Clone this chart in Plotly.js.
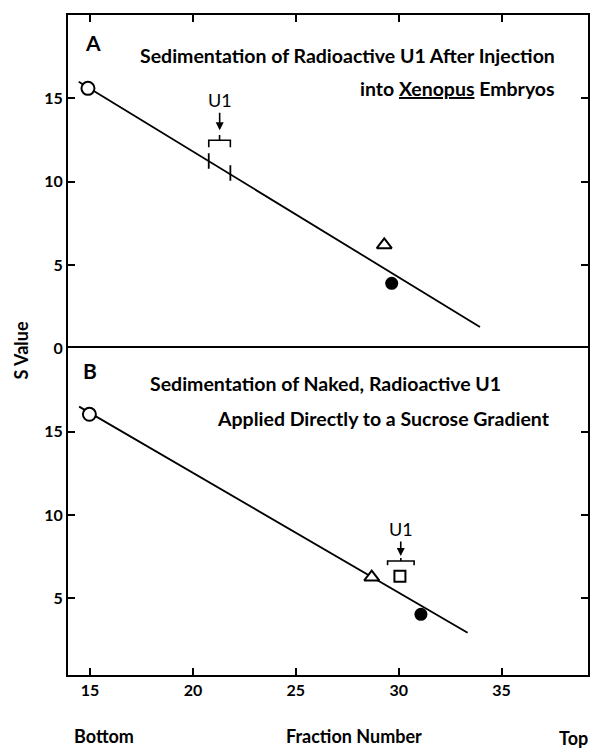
<!DOCTYPE html>
<html>
<head>
<meta charset="utf-8">
<script src="https://cdn.plot.ly/plotly-3.0.1.min.js"></script>
<style>html,body{margin:0;padding:0;background:#fff;}#chart{width:593px;height:748px;}</style>
</head>
<body>
<div id="chart"></div>
<script>
// ---------- data ----------
// Panel A: Sedimentation of radioactive U1 after injection into Xenopus embryos
const aLineX = [14.45, 33.95];
const aLineY = [16.0, 1.28];
const aOpenCircleX = [14.9];
const aOpenCircleY = [15.6];
const aTriangleX = [29.3];
const aTriangleY = [6.2];
const aFilledX = [29.66];
const aFilledY = [3.9];
const aU1X = [20.77, 21.82];        // U1 peak boundaries on the line
const aU1Y = [11.24, 10.52];
const aBracketY = [12.06, 12.48, 12.8]; // end, top, notch
const aArrowTip = [21.3, 13.08];

// Panel B: naked radioactive U1 applied directly to a sucrose gradient
const bLineX = [14.47, 33.35];
const bLineY = [16.5, 2.94];
const bOpenCircleX = [14.97];
const bOpenCircleY = [16.04];
const bTriangleX = [28.69];
const bTriangleY = [6.27];
const bSquareX = [30.06];
const bSquareY = [6.33];
const bFilledX = [31.08];
const bFilledY = [4.04];
const bBracketX = [29.46, 30.75];
const bBracketY = [6.98, 7.24, 7.42];
const bArrowTip = [30.1, 7.54];

const xTicks = [15, 20, 25, 30, 35];
const yTicksA = [0, 5, 10, 15];
const yTicksB = [5, 10, 15];
const xRange = [13.93, 39.2];
const yRangeA = [0, 20];
const yRangeB = [0.4, 20];

const titleA1 = "Sedimentation of Radioactive U1 After Injection";
const titleA2 = "into <u>Xenopus</u> Embryos";
const titleB1 = "Sedimentation of Naked, Radioactive U1";
const titleB2 = "Applied Directly to a Sucrose Gradient";

// ---------- styles ----------
const FONT = "Lato, 'Liberation Sans', sans-serif";
const black = "#000";
const lineStyle = {color: black, width: 1.8};
const openMarker = (sym, size) => ({symbol: sym, size: size, color: "#fff", line: {color: black, width: 2}});

const traces = [
  // Panel A
  {x: aLineX, y: aLineY, xaxis: "x2", yaxis: "y2", mode: "lines", line: lineStyle, hoverinfo: "skip"},
  {x: aU1X, y: aU1Y, xaxis: "x2", yaxis: "y2", mode: "markers",
   marker: {symbol: "line-ns", size: 11, line: {color: black, width: 1.8}}},
  {x: aOpenCircleX, y: aOpenCircleY, xaxis: "x2", yaxis: "y2", mode: "markers", marker: openMarker("circle", 13)},
  {x: aTriangleX, y: aTriangleY, xaxis: "x2", yaxis: "y2", mode: "markers", marker: openMarker("triangle-up", 13)},
  {x: aFilledX, y: aFilledY, xaxis: "x2", yaxis: "y2", mode: "markers", marker: {symbol: "circle", size: 13, color: black}},
  // Panel B
  {x: bLineX, y: bLineY, xaxis: "x", yaxis: "y", mode: "lines", line: lineStyle, hoverinfo: "skip"},
  {x: bOpenCircleX, y: bOpenCircleY, xaxis: "x", yaxis: "y", mode: "markers", marker: openMarker("circle", 13)},
  {x: bTriangleX, y: bTriangleY, xaxis: "x", yaxis: "y", mode: "markers", marker: openMarker("triangle-up", 13)},
  {x: bSquareX, y: bSquareY, xaxis: "x", yaxis: "y", mode: "markers", marker: openMarker("square", 11)},
  {x: bFilledX, y: bFilledY, xaxis: "x", yaxis: "y", mode: "markers", marker: {symbol: "circle", size: 13, color: black}}
];

function bracketPath(x1, x2, yEnd, yTop, yNotch) {
  const xm = (x1 + x2) / 2;
  return `M ${x1},${yEnd} L ${x1},${yTop} L ${x2},${yTop} L ${x2},${yEnd} M ${xm},${yTop} L ${xm},${yNotch}`;
}

const shapes = [
  {type: "path", xref: "x2", yref: "y2", path: bracketPath(aU1X[0], aU1X[1], aBracketY[0], aBracketY[1], aBracketY[2]),
   line: {color: black, width: 1.6}},
  {type: "path", xref: "x", yref: "y", path: bracketPath(bBracketX[0], bBracketX[1], bBracketY[0], bBracketY[1], bBracketY[2]),
   line: {color: black, width: 1.6}}
];

const titleFont = {family: FONT, size: 19.5, color: black, weight: "bold"};
const labelFont = {family: FONT, size: 18, color: black, weight: "bold"};
const letterFont = {family: FONT, size: 21, color: black, weight: "bold"};
const u1Font = {family: FONT, size: 18, color: black};
function note(x, y, text, font, xanchor, extra) {
  return Object.assign({xref: "paper", yref: "paper", x: x, y: y, text: text, showarrow: false,
    font: font, xanchor: xanchor || "center", yanchor: "middle"}, extra || {});
}
const annotations = [
  note(0.048, 0.958, "A", letterFont),
  note(0.94, 0.939, titleA1, titleFont, "right"),
  note(0.94, 0.889, titleA2, titleFont, "right"),
  note(0.042, 0.462, "B", letterFont),
  note(0.154, 0.442, titleB1, titleFont, "left"),
  note(0.93, 0.389, titleB2, titleFont, "right"),
  {xref: "x2", yref: "y2", x: aArrowTip[0], y: aArrowTip[1], ax: 0, ay: -30, text: "U1", showarrow: true,
   arrowhead: 2, arrowsize: 1, arrowwidth: 1.6, arrowcolor: black, font: u1Font},
  {xref: "x", yref: "y", x: bArrowTip[0], y: bArrowTip[1], ax: 0, ay: -27, text: "U1", showarrow: true,
   arrowhead: 2, arrowsize: 1, arrowwidth: 1.6, arrowcolor: black, font: u1Font},
  note(-0.090, 0.492, "S Value", labelFont, "center", {textangle: -90}),
  note(0.069, -0.092, "Bottom", labelFont),
  note(0.55, -0.092, "Fraction Number", labelFont),
  note(1.002, -0.095, "Top", labelFont, "right", {borderpad: 0})
];

const axisCommon = {
  showgrid: false, zeroline: false, showline: true, linecolor: black, linewidth: 2,
  ticks: "inside", ticklen: 7, tickwidth: 2, tickcolor: black,
  tickfont: {family: FONT, size: 16, color: black, weight: "bold"}
};

const layout = {
  width: 593, height: 748,
  margin: {l: 68, r: 5, t: 15, b: 73},
  paper_bgcolor: "#fff", plot_bgcolor: "#fff",
  showlegend: false,
  xaxis: Object.assign({}, axisCommon, {domain: [0, 1], anchor: "y", range: xRange, tickvals: xTicks, mirror: true}),
  xaxis2: Object.assign({}, axisCommon, {domain: [0, 1], anchor: "y2", range: xRange, tickvals: xTicks, side: "top",
    showticklabels: false, mirror: false}),
  yaxis: Object.assign({}, axisCommon, {domain: [0, 0.495], anchor: "x", range: yRangeB, tickvals: yTicksB, mirror: "ticks"}),
  yaxis2: Object.assign({}, axisCommon, {domain: [0.495, 1], anchor: "x2", range: yRangeA, tickvals: yTicksA, mirror: "ticks"}),
  shapes: shapes,
  annotations: annotations
};

Plotly.newPlot("chart", traces, layout, {displayModeBar: false, staticPlot: true});
</script>
</body>
</html>
